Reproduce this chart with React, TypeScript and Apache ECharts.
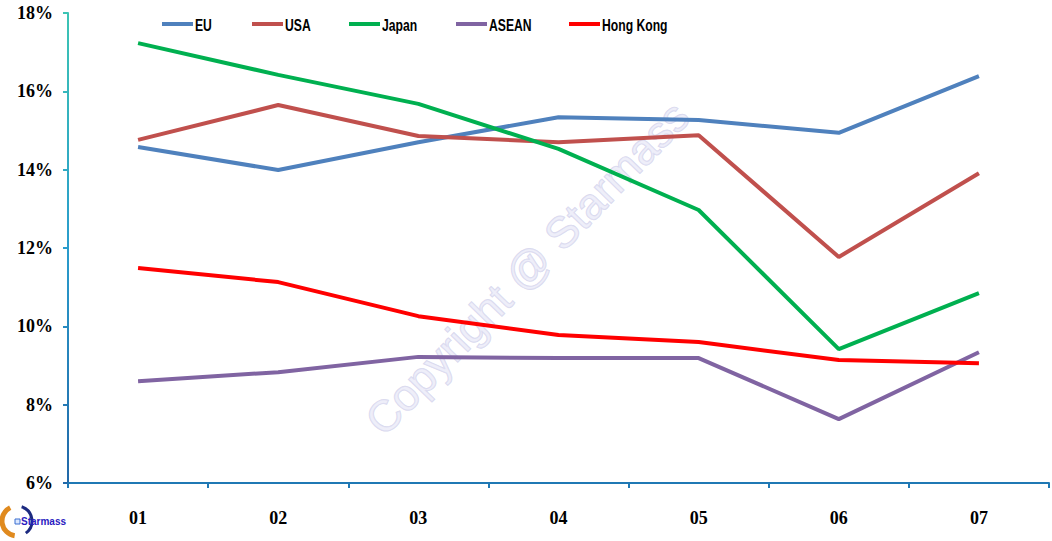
import React, { useEffect, useRef } from "react";
import * as echarts from "echarts";

const categories = ["01", "02", "03", "04", "05", "06", "07"];
const euValues = [14.58, 13.99, 14.7, 15.34, 15.27, 14.94, 16.39];
const usaValues = [14.76, 15.65, 14.86, 14.7, 14.88, 11.77, 13.91];
const japanValues = [17.23, 16.42, 15.68, 14.53, 12.97, 9.42, 10.85];
const aseanValues = [8.6, 8.83, 9.22, 9.19, 9.19, 7.63, 9.34];
const hongKongValues = [11.49, 11.13, 10.26, 9.78, 9.6, 9.14, 9.06];
const seriesNames = ["EU", "USA", "Japan", "ASEAN", "Hong Kong"];
const seriesColors = ["#4F81BD", "#C0504D", "#00B050", "#8064A2", "#FF0000"];

// legend layout (x of each legend key's left end)
const legendX = [162, 252, 349, 456, 569];

export default function App() {
  const ref = useRef<HTMLDivElement>(null);
  useEffect(() => {
    if (!ref.current) return;
    const chart = echarts.init(ref.current, undefined, { renderer: "svg" });
    const data = [euValues, usaValues, japanValues, aseanValues, hongKongValues];
    const legendGraphics: any[] = [];
    seriesNames.forEach((name, i) => {
      legendGraphics.push({
        type: "line",
        shape: { x1: legendX[i], y1: 24, x2: legendX[i] + 31, y2: 24 },
        style: { stroke: seriesColors[i], lineWidth: 4 },
      });
      legendGraphics.push({
        type: "text",
        x: legendX[i] + 33,
        y: 25,
        scaleX: 0.76,
        style: {
          text: name,
          fontFamily: "Liberation Sans",
          fontWeight: "bold",
          fontSize: 16,
          fill: "#000",
          verticalAlign: "middle",
          align: "left",
        },
      });
    });
    const yAxisColor = new echarts.graphic.LinearGradient(
      0, 13, 0, 483,
      [
        { offset: 0, color: "#3cc4b4" },
        { offset: 0.5, color: "#2a9ccc" },
        { offset: 1, color: "#2268a8" },
      ],
      true
    );
    chart.setOption({
      animation: false,
      backgroundColor: "#ffffff",
      grid: { left: 68, right: 3, top: 13, bottom: 58, containLabel: false },
      xAxis: {
        type: "category",
        data: categories,
        boundaryGap: true,
        axisLine: { lineStyle: { color: "#1f78b4", width: 2 } },
        axisTick: { show: true, length: 5, alignWithLabel: false, lineStyle: { color: "#1f78b4", width: 2 } },
        axisLabel: {
          margin: 26,
          fontFamily: "Liberation Serif",
          fontWeight: "bold",
          fontSize: 18,
          color: "#000",
        },
        splitLine: { show: false },
      },
      yAxis: {
        type: "value",
        min: 6,
        max: 18,
        interval: 2,
        axisLine: { show: true, lineStyle: { color: yAxisColor, width: 2 } },
        axisTick: { show: true, length: 5, lineStyle: { color: yAxisColor, width: 2 } },
        axisLabel: {
          formatter: "{value}%",
          margin: 15,
          fontFamily: "Liberation Serif",
          fontWeight: "bold",
          fontSize: 18,
          color: "#000",
        },
        splitLine: { show: false },
      },
      graphic: [
        {
          type: "text",
          x: 527,
          y: 268,
          rotation: (46 * Math.PI) / 180,
          z: 0,
          silent: true,
          style: {
            text: "Copyright @ Starmass",
            fontFamily: "Liberation Sans",
            fontSize: 44,
            fill: "rgba(228,228,246,0.6)",
            stroke: "rgba(195,195,228,0.65)",
            lineWidth: 1.2,
            align: "center",
            verticalAlign: "middle",
          },
        },
        ...legendGraphics,
        {
          type: "arc",
          shape: { cx: 17, cy: 521, r: 15, startAngle: Math.PI * 0.55, endAngle: Math.PI * 1.35 },
          style: { stroke: "#e08a1e", lineWidth: 5, fill: "none" },
        },
        {
          type: "arc",
          shape: { cx: 17, cy: 521, r: 15, startAngle: Math.PI * 1.6, endAngle: Math.PI * 0.3 },
          style: { stroke: "#1c2a80", lineWidth: 3, fill: "none" },
        },
        {
          type: "rect",
          shape: { x: 15, y: 519, width: 5, height: 5 },
          style: { fill: "#dbe8ff", stroke: "#3a6fd0", lineWidth: 1 },
        },
        {
          type: "text",
          x: 21,
          y: 521,
          style: {
            text: "Starmass",
            fontFamily: "Liberation Sans",
            fontWeight: "bold",
            fontSize: 10,
            fill: "#2a20c0",
            verticalAlign: "middle",
          },
        },
      ],
      series: seriesNames.map((name, i) => ({
        name,
        type: "line",
        data: data[i],
        symbol: "none",
        lineStyle: { color: seriesColors[i], width: 4 },
        itemStyle: { color: seriesColors[i] },
        z: 3,
      })),
    });
    return () => chart.dispose();
  }, []);
  return (
    <div
      ref={ref}
      style={{ position: "fixed", left: 0, top: 0, width: 1052, height: 541 }}
    />
  );
}
